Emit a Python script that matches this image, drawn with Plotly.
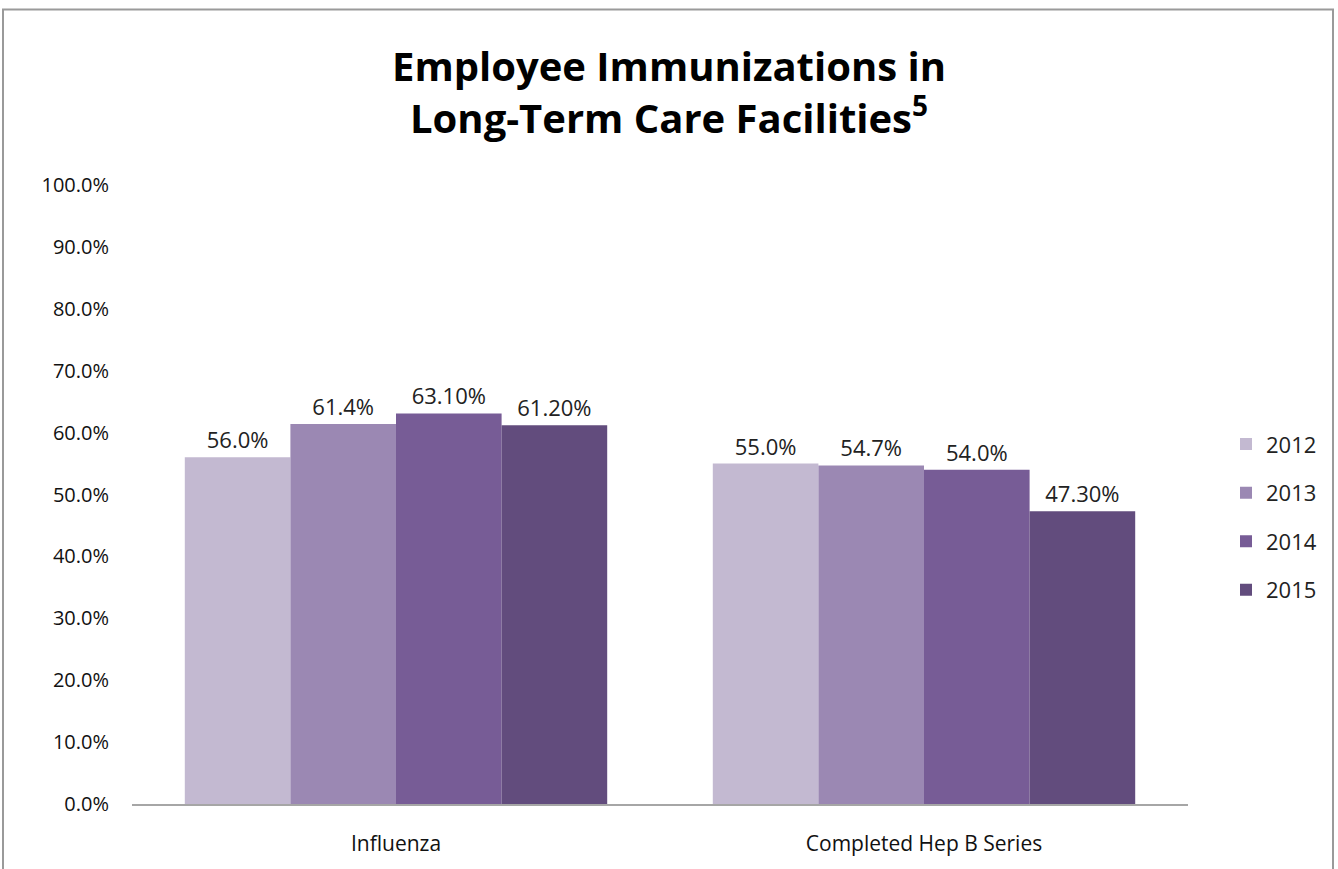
import plotly.graph_objects as go

categories = ["Influenza", "Completed Hep B Series"]
years = ["2012", "2013", "2014", "2015"]
values = {
    "2012": [56.0, 55.0],
    "2013": [61.4, 54.7],
    "2014": [63.1, 54.0],
    "2015": [61.2, 47.3],
}
labels = {
    "2012": ["56.0%", "55.0%"],
    "2013": ["61.4%", "54.7%"],
    "2014": ["63.10%", "54.0%"],
    "2015": ["61.20%", "47.30%"],
}
colors = {"2012": "#C3B9D1", "2013": "#9B88B3", "2014": "#775C96", "2015": "#624C7D"}
yticks = list(range(0, 101, 10))
ytick_text = [f"{v:.1f}%" for v in yticks]

W, H = 1338, 869
L, R, T, B = 132, 150, 185, 63
pw, ph = W - L - R, H - T - B

fig = go.Figure()
for y in years:
    fig.add_trace(go.Bar(
        name=y, x=categories, y=values[y], marker_color=colors[y],
        marker_line_width=0, legendgroup=y,
        text=labels[y], textposition="outside", cliponaxis=False,
        textfont=dict(size=22, color="#222222", family="Open Sans"),
    ))

fig.update_layout(
    width=W, height=H,
    margin=dict(l=L, r=R, t=T, b=B),
    paper_bgcolor="white", plot_bgcolor="white",
    barmode="group", bargap=0.2, bargroupgap=0,
    font=dict(family="Open Sans", color="#111111", size=20),
    title=dict(
        text="Employee Immunizations in<br>Long-Term Care Facilities<sup>5</sup>",
        x=0.5, xanchor="center", y=1 - 81 / H, yanchor="middle",
        font=dict(family="Open Sans", size=40, color="black", weight="bold"),
    ),
    legend=dict(
        x=(1226 - L) / pw, xanchor="left", y=(806 - 424) / ph, yanchor="top",
        font=dict(size=22, color="#222222"), itemwidth=30,
        tracegroupgap=17, bgcolor="rgba(0,0,0,0)",
    ),
    showlegend=True,
)
fig.update_yaxes(
    range=[0, 100], tickvals=yticks, ticktext=ytick_text,
    showgrid=False, zeroline=False, showline=False, ticks="",
    tickfont=dict(size=20), ticklabelstandoff=22,
)
fig.update_xaxes(
    showline=True, linecolor="#A6A6A6", linewidth=2, ticks="",
    tickfont=dict(size=21), ticklabelstandoff=20,
)
# outer border
fig.add_shape(type="rect", xref="paper", yref="paper",
              x0=(3 - L) / pw, x1=(1333 - L) / pw,
              y0=(806 - 880) / ph, y1=(806 - 9) / ph,
              line=dict(color="#9A9A9A", width=2), fillcolor="rgba(0,0,0,0)", layer="below")

fig.write_html("out.html", config={"displayModeBar": False},
               post_script="document.body.style.margin='0';")
